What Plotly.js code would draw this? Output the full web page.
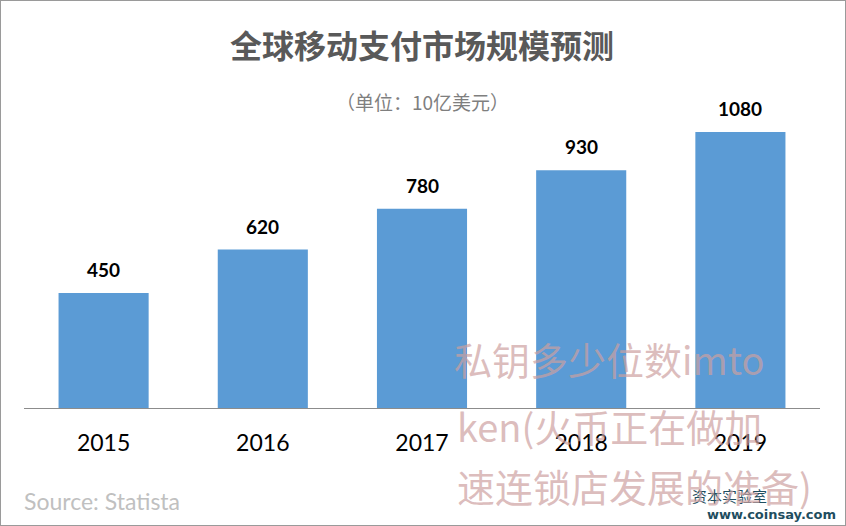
<!DOCTYPE html>
<html><head><meta charset="utf-8">
<script src="https://cdn.plot.ly/plotly-3.0.1.min.js"></script>
<style>
html,body{margin:0;padding:0;background:#fff;}
#wrap{position:relative;width:846px;height:526px;}
#chart{width:846px;height:526px;}
#frame{position:absolute;left:0;top:0;width:846px;height:526px;box-sizing:border-box;border:1px solid #9a9a9a;pointer-events:none;}
</style></head>
<body><div id="wrap"><div id="chart"></div><div id="frame"></div></div>
<script>
const years = ['2015','2016','2017','2018','2019'];
const values = [450, 620, 780, 930, 1080];
const titleText = '全球移动支付市场规模预测';
const subtitleText = '（单位：10亿美元）';
const sourceText = 'Source: Statista';
const watermarkLines = ['私钥多少位数imto', 'ken(火币正在做加', '速连锁店发展的准备)'];

const W = 846, H = 526, L = 24, R = 26, T = 100, B = 118;
const pw = W - L - R, ph = H - T - B;
const px = x => (x - L) / pw;
const py = y => (H - B - y) / ph;

const labelAnns = years.map((yr, i) => ({
  x: i, y: values[i], xref: 'x', yref: 'y', text: String(values[i]),
  showarrow: false, yanchor: 'bottom', yshift: 10,
  font: {family: 'Lato, "Noto Sans", sans-serif', size: 19, color: '#000', weight: 'bold'}
}));

const wmY = [358, 425, 485];
const wmX = [452, 455, 455];
const wmAnns = watermarkLines.map((t, i) => ({
  x: px(wmX[i]), y: py(wmY[i]), xref: 'paper', yref: 'paper', text: t,
  showarrow: false, xanchor: 'left', yanchor: 'middle',
  font: {family: '"Noto Sans CJK SC", sans-serif', size: 38, color: 'rgba(205,160,160,0.7)'}
}));

const otherAnns = [
  {x: 0.5, y: py(101), xref: 'paper', yref: 'paper', text: subtitleText, showarrow: false,
   xanchor: 'center', yanchor: 'middle', font: {family: '"Noto Sans CJK SC", sans-serif', size: 19, color: '#7f7f7f'}},
  {x: px(22), y: py(501), xref: 'paper', yref: 'paper', text: sourceText, showarrow: false,
   xanchor: 'left', yanchor: 'middle', font: {family: 'Lato, "Noto Sans", sans-serif', size: 23, color: '#c0c0c0'}},
  {x: px(690), y: py(496), xref: 'paper', yref: 'paper', text: '资本实验室', showarrow: false,
   xanchor: 'left', yanchor: 'middle', font: {family: '"Noto Sans CJK SC", sans-serif', size: 15, color: '#1f4e5f'}},
  {x: px(838), y: py(514), xref: 'paper', yref: 'paper', text: 'www.coinsay.com', showarrow: false,
   xanchor: 'right', yanchor: 'middle', font: {family: '"DejaVu Sans", sans-serif', size: 13, color: '#1f4e5f', weight: 'bold'}}
];

const trace = {
  type: 'bar', x: years, y: values,
  marker: {color: '#5B9BD5'}, width: 0.566, hoverinfo: 'skip'
};

const layout = {
  width: W, height: H,
  margin: {l: L, r: R, t: T, b: B, pad: 0},
  paper_bgcolor: '#fff', plot_bgcolor: '#fff',
  showlegend: false,
  title: {text: titleText, x: 0.5, xanchor: 'center', xref: 'paper', y: 1 - 47 / H, yref: 'container', yanchor: 'middle',
    font: {family: '"Noto Sans CJK SC", sans-serif', size: 32, color: '#595959', weight: 'bold'}},
  xaxis: {type: 'category', range: [-0.5, 4.5], autorange: false, showgrid: false, zeroline: false, showline: true,
    linecolor: '#8c8c8c', linewidth: 1, ticks: '', ticklabelstandoff: 14,
    tickfont: {family: 'Lato, "Noto Sans", sans-serif', size: 23, color: '#000'}},
  yaxis: {range: [0, ph / 0.2556], autorange: false, showgrid: false, zeroline: false, showline: false, showticklabels: false, ticks: ''},
  annotations: labelAnns.concat(otherAnns, wmAnns)
};

Plotly.newPlot('chart', [trace], layout, {staticPlot: true, displayModeBar: false});
</script></body></html>
